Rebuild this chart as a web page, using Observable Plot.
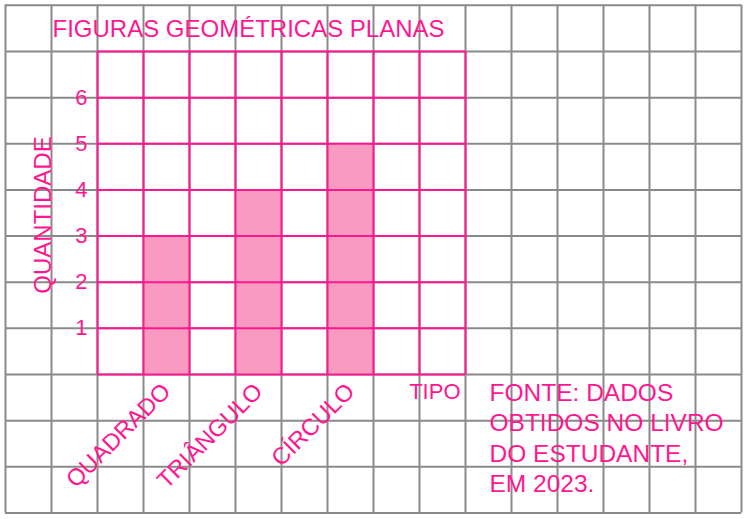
<!DOCTYPE html>
<html><head><meta charset="utf-8">
<script src="https://cdn.jsdelivr.net/npm/d3@7"></script>
<script src="https://cdn.jsdelivr.net/npm/@observablehq/plot@0.6"></script>
<style>html,body{margin:0;padding:0;background:#fff}#chart svg{display:block}</style>
</head><body><div id="chart"></div>
<script>
const title = "FIGURAS GEOMÉTRICAS PLANAS";
const categories = ["QUADRADO", "TRIÂNGULO", "CÍRCULO"];
const values = [3, 4, 5];
const yTicks = [1, 2, 3, 4, 5, 6];
const yLabel = "QUANTIDADE";
const xLabel = "TIPO";
const sourceLines = ["FONTE: DADOS", "OBTIDOS NO LIVRO", "DO ESTUDANTE,", "EM 2023."];

const data = categories.map((c, i) => ({c, v: values[i], slot: 2 * i + 1}));
const PINK = "#ff1791", FILL = "#f99ac0", GRAY = "#8a8a8a";
const FONT = "'Liberation Sans', Arial, Helvetica, sans-serif";

const plot = Plot.plot({
  width: 746, height: 519,
  marginLeft: 97, marginRight: 281, marginTop: 51, marginBottom: 145,
  style: {fontFamily: FONT, background: "#fff", overflow: "visible"},
  x: {type: "linear", domain: [0, 8], axis: null},
  y: {domain: [0, 7], axis: null},
  marks: [
    Plot.ruleX(d3.range(-2, 15), {y1: -3, y2: 8, stroke: GRAY, strokeWidth: 2}),
    Plot.ruleY(d3.range(-3, 9), {x1: -2, x2: 14, stroke: GRAY, strokeWidth: 2}),
    Plot.rect(data, {x1: "slot", x2: d => d.slot + 1, y1: 0, y2: "v", fill: FILL}),
    Plot.ruleX(d3.range(0, 9), {y1: 0, y2: 7, stroke: PINK, strokeWidth: 2}),
    Plot.ruleY(d3.range(0, 8), {x1: 0, x2: 8, stroke: PINK, strokeWidth: 2}),
    Plot.axisY(yTicks, {tickSize: 0, tickPadding: 10, fontSize: 22, fill: PINK, label: null}),
    Plot.text(data, {x: d => d.slot + 0.5, y: 0, text: "c", rotate: -45, textAnchor: "end", dy: 13, fontSize: 23.5, fill: PINK}),
    Plot.text([title], {frameAnchor: "top-left", textAnchor: "start", lineAnchor: "middle", dx: -45, dy: -22, fontSize: 24, fill: PINK}),
    Plot.text([yLabel], {frameAnchor: "left", rotate: -90, textAnchor: "middle", lineAnchor: "middle", dx: -54, dy: 2, fontSize: 24, fill: PINK}),
    Plot.text([xLabel], {frameAnchor: "bottom-right", textAnchor: "end", lineAnchor: "top", dx: -5, dy: 9, fontSize: 22, fill: PINK}),
    Plot.text([sourceLines.join("\n")], {frameAnchor: "bottom-right", textAnchor: "start", lineAnchor: "top", dx: 24, dy: 5, fontSize: 24.5, lineHeight: 1.24, fill: PINK})
  ]
});
document.getElementById("chart").append(plot);
</script>
</body></html>
